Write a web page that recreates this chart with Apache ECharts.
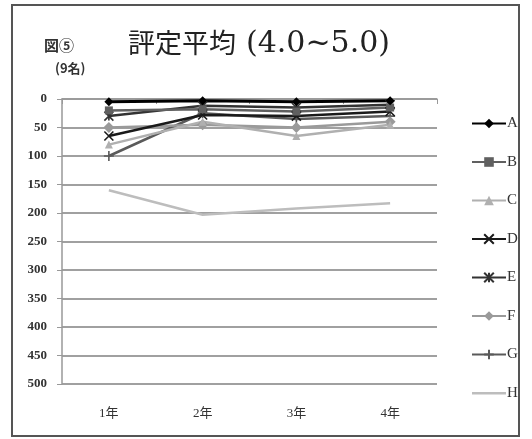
<!DOCTYPE html>
<html>
<head>
<meta charset="utf-8">
<script src="https://cdn.jsdelivr.net/npm/echarts@6/dist/echarts.min.js"></script>
<style>
html,body{margin:0;padding:0;background:#fff;}
#chart{width:532px;height:439px;}
</style>
</head>
<body>
<div id="chart"></div>
<script>
// Year categories and tick values
const years = ['1年', '2年', '3年', '4年'];
const yTicks = [0, 50, 100, 150, 200, 250, 300, 350, 400, 450, 500];

// Ranks per student across the four years
const seriesA = [5, 3, 5, 3];
const seriesB = [20, 18, 22, 15];
const seriesC = [80, 40, 65, 45];
const seriesD = [65, 28, 30, 22];
const seriesE = [30, 12, 15, 10];
const seriesF = [50, 45, 50, 40];
const seriesG = [100, 25, 35, 30];
const seriesH = [160, 203, 192, 183];

const serifFont = '"Liberation Serif", "DejaVu Serif", "Noto Sans CJK JP", serif';

const xMark = 'path://M0,0L10,10M10,0L0,10';
const starMark = 'path://M0,0L10,10M10,0L0,10M5,0L5,10';
const plusMark = 'path://M5,0L5,10M0,5L10,5';
// plain bar for the marker-less series; tiny corner dots fix the icon box
const plainLine = 'path://M0,0L0.1,0L0,0.1Z M34,12L33.9,12L34,11.9Z M0,5L34,5L34,7.5L0,7.5Z';

function line(name, data, color, symbol, size, width, strokeOnly) {
  return {
    name: name,
    type: 'line',
    data: data,
    symbol: symbol,
    symbolSize: size,
    showSymbol: symbol !== 'none',
    lineStyle: { color: color, width: width },
    itemStyle: strokeOnly
      ? { color: 'rgba(0,0,0,0)', borderColor: color, borderWidth: 1.6 }
      : { color: color, borderColor: color, borderWidth: 0 },
    emphasis: { disabled: true },
    animation: false
  };
}

const chart = echarts.init(document.getElementById('chart'), null, { renderer: 'canvas' });
chart.setOption({
  backgroundColor: '#fff',
  animation: false,
  graphic: [
    { type: 'rect', shape: { x: 12, y: 5, width: 507, height: 431 },
      style: { fill: 'none', stroke: '#555', lineWidth: 2 } },
    { type: 'text', left: 44, top: 38,
      style: { text: '図⑤', font: 'bold 15px "Noto Sans CJK JP"', fill: '#333' } },
    { type: 'text', left: 128, top: 29,
      style: { text: '評定平均', font: '27px "Noto Sans CJK JP"', fill: '#222' } },
    { type: 'text', left: 246, top: 29,
      style: { text: '(4.0~5.0)', font: '30px "DejaVu Serif"', fill: '#222' } },
    { type: 'text', left: 55, top: 62,
      style: { text: '(9名)', font: 'bold 13px "Noto Sans CJK JP"', fill: '#333' } }
  ],
  grid: { left: 62, right: 95, top: 99, bottom: 55, containLabel: false },
  legend: {
    orient: 'vertical',
    left: 466,
    top: 111,
    itemWidth: 34,
    itemHeight: 12,
    itemGap: 23.5,
    textStyle: { fontFamily: serifFont, fontSize: 15, color: '#333', padding: [0, 0, 0, -4] },
    data: ['A', 'B', 'C', 'D', 'E', 'F', 'G', { name: 'H', icon: plainLine }]
  },
  xAxis: {
    type: 'category',
    data: years,
    boundaryGap: true,
    axisLine: { lineStyle: { color: '#999', width: 1.5 } },
    axisTick: { show: true, alignWithLabel: false, length: 5, lineStyle: { color: '#999' } },
    axisLabel: { margin: 23, fontFamily: serifFont, fontSize: 13, color: '#333' }
  },
  yAxis: {
    type: 'value',
    inverse: true,
    min: yTicks[0],
    max: yTicks[yTicks.length - 1],
    interval: 50,
    axisLine: { show: true, lineStyle: { color: '#999', width: 1.5 } },
    axisTick: { show: true, length: 5, lineStyle: { color: '#999' } },
    axisLabel: { margin: 15, fontFamily: serifFont, fontSize: 13, fontWeight: 'bold', color: '#333' },
    splitLine: { lineStyle: { color: '#808080', width: 1.5 } }
  },
  series: [
    line('H', seriesH, '#bdbdbd', 'none', 0, 2.5, false),
    line('G', seriesG, '#5a5a5a', plusMark, 10, 2.5, true),
    line('F', seriesF, '#9a9a9a', 'diamond', 11, 2.5, false),
    line('E', seriesE, '#333333', starMark, 9, 2.5, true),
    line('D', seriesD, '#1a1a1a', xMark, 9, 2.5, true),
    line('C', seriesC, '#b0b0b0', 'triangle', 8, 2.5, false),
    line('B', seriesB, '#606060', 'rect', 8, 2.5, false),
    line('A', seriesA, '#000000', 'diamond', 9, 3, false)
  ]
});
</script>
</body>
</html>
